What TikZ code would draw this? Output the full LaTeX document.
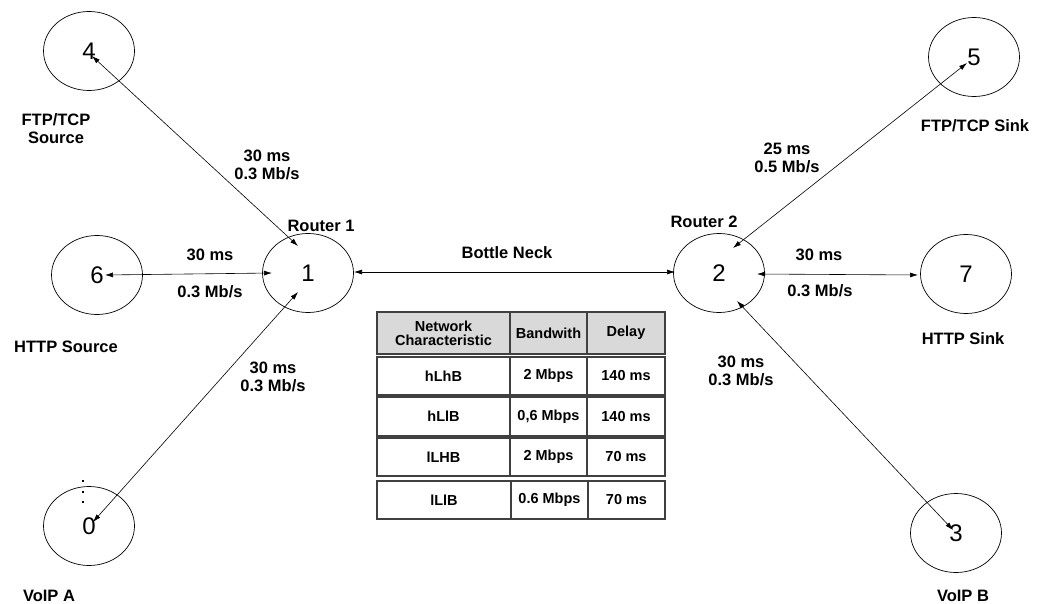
\documentclass[tikz,border=0pt]{standalone}
\usepackage{fontspec}
\setmainfont{Liberation Sans}
\usetikzlibrary{arrows.meta,shapes.geometric,calc}
\begin{document}
\begin{tikzpicture}[x=1pt,y=-1pt,
  host/.style={draw, ellipse, minimum width=91pt, minimum height=79pt, inner sep=0pt, font=\fontsize{24}{24}\selectfont, line width=0.7pt},
  lbl/.style={font=\bfseries\fontsize{16.5}{18.5}\selectfont, align=center, inner sep=0pt},
  link/.style={{Latex[length=8pt,width=5pt]}-{Latex[length=8pt,width=5pt]}, line width=0.6pt},
  cell/.style={draw=black!75, line width=1.2pt, inner sep=0pt, font=\bfseries\fontsize{14.5}{14}\selectfont, align=center},
  hdr/.style={cell, fill=black!15},
  dot/.style={fill=black, inner sep=0pt, minimum size=2.5pt},
]
\useasboundingbox (0,0) rectangle (1038,604);

% hosts
\node[host] (n4) at (89,51) {4};
\node[host] (n6) at (97,275) {6};
\node[host] (n1) at (308,273) {1};
\node[host] (n0) at (89,526) {0};
\node[host] (n5) at (974,57) {5};
\node[host] (n2) at (719,273) {2};
\node[host] (n7) at (966,274) {7};
\node[host] (n3) at (956,533) {3};

% dots above 0
\node[dot] (d1) at (83,481) {};
\node[dot] (d2) at (83,492) {};
\node[dot] (d3) at (83,502) {};

% link end points
\coordinate (a4) at ($(n4.center)+(3,5)$);
\coordinate (a6) at ($(n6.center)+(8,0)$);
\coordinate (a0) at ($(n0.center)+(4,-4)$);
\coordinate (b14) at ($(n1.center)+(-10,-27)$);
\coordinate (b16) at ($(n1.center)+(-36,0)$);
\coordinate (b10) at ($(n1.center)+(-10,19)$);
\coordinate (b12) at ($(n1.center)+(46,-1)$);
\coordinate (c21) at ($(n2.center)+(-44,-1)$);
\coordinate (c25) at ($(n2.center)+(14,-25)$);
\coordinate (c27) at ($(n2.center)+(38,1)$);
\coordinate (c23) at ($(n2.center)+(18,28)$);
\coordinate (a5) at ($(n5.center)+(-7,6)$);
\coordinate (a7) at ($(n7.center)+(-48,1)$);
\coordinate (a3) at ($(n3.center)+(-3,-3)$);

% links
\draw[link] (a4) -- (b14);
\draw[link] (a6) -- (b16);
\draw[link] (a0) -- (b10);
\draw[link] (b12) -- (c21);
\draw[link] (a5) -- (c25);
\draw[link] (c27) -- (a7);
\draw[link] (c23) -- (a3);

% labels
\node[lbl] (l4) at (56,128.5) {FTP/TCP\\Source};
\node[lbl] (l6) at (66,347) {HTTP Source};
\node[lbl] (l0) at (49,596) {VoIP A};
\node[lbl] (r1) at (321,226) {Router 1};
\node[lbl] (r2) at (704,222) {Router 2};
\node[lbl] (l5) at (975,126) {FTP/TCP Sink};
\node[lbl] (l7) at (963,339) {HTTP Sink};
\node[lbl] (l3) at (963,596) {VoIP B};

\node[lbl] (e41) at (267,165) {30 ms\\0.3 Mb/s};
\node[lbl] (e61a) at (210,255) {30 ms};
\node[lbl] (e61b) at (210,292) {0.3 Mb/s};
\node[lbl] (e01) at (273,377) {30 ms\\0.3 Mb/s};
\node[lbl] (e12) at (507,253) {Bottle Neck};
\node[lbl] (e52) at (787,158) {25 ms\\0.5 Mb/s};
\node[lbl] (e27a) at (819,255) {30 ms};
\node[lbl] (e27b) at (820,291) {0.3 Mb/s};
\node[lbl] (e23) at (741,371) {30 ms\\0.3 Mb/s};

% table
\node[hdr, minimum width=133pt, minimum height=42pt] (h1) at (443.5,333) {Network\\Characteristic};
\node[hdr, minimum width=77pt, minimum height=42pt] (h2) at (548.5,333) {Bandwith};
\node[hdr, minimum width=78pt, minimum height=42pt] (h3) at (626,333) {Delay};

\node[cell, minimum width=133pt, minimum height=38pt] (r1c1) at (443.5,376) {hLhB};
\node[cell, minimum width=77pt, minimum height=38pt] (r1c2) at (548.5,376) {2 Mbps};
\node[cell, minimum width=78pt, minimum height=38pt] (r1c3) at (626,376) {140 ms};

\node[cell, minimum width=133pt, minimum height=39pt] (r2c1) at (443.5,416.5) {hLlB};
\node[cell, minimum width=77pt, minimum height=39pt] (r2c2) at (548.5,416.5) {0,6 Mbps};
\node[cell, minimum width=78pt, minimum height=39pt] (r2c3) at (626,416.5) {140 ms};

\node[cell, minimum width=133pt, minimum height=38pt] (r3c1) at (443.5,457) {lLHB};
\node[cell, minimum width=77pt, minimum height=38pt] (r3c2) at (548.5,457) {2 Mbps};
\node[cell, minimum width=78pt, minimum height=38pt] (r3c3) at (626,457) {70 ms};

\node[cell, minimum width=134pt, minimum height=38pt] (r4c1) at (444,500) {lLlB};
\node[cell, minimum width=77pt, minimum height=38pt] (r4c2) at (549.5,500) {0.6 Mbps};
\node[cell, minimum width=77pt, minimum height=38pt] (r4c3) at (626.5,500) {70 ms};
\end{tikzpicture}
\end{document}
